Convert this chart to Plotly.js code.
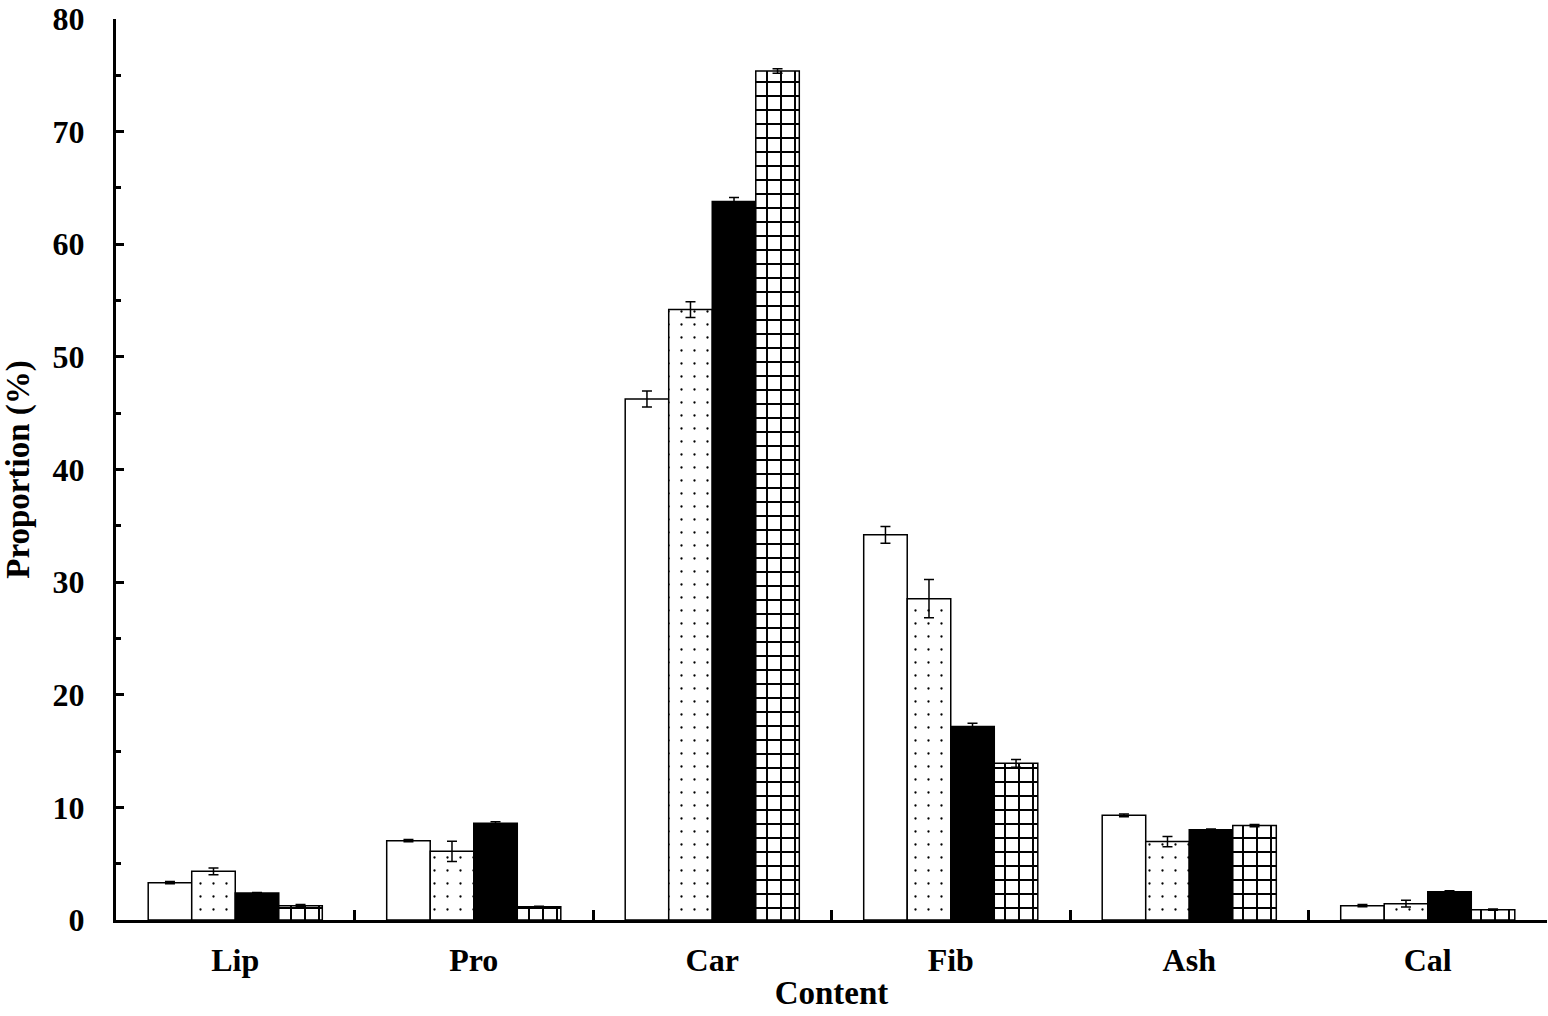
<!DOCTYPE html>
<html>
<head>
<meta charset="utf-8">
<script src="https://cdn.plot.ly/plotly-3.0.1.min.js"></script>
<style>html,body{margin:0;padding:0;background:#fff;}#chart{width:1548px;height:1016px;}</style>
</head>
<body>
<div id="chart"></div>
<script>
const categories = ["Lip", "Pro", "Car", "Fib", "Ash", "Cal"];
const series1 = [3.31, 7.04, 46.26, 34.2, 9.29, 1.27];
const series1Err = [0.1, 0.1, 0.7, 0.74, 0.12, 0.1];
const series2 = [4.32, 6.1, 54.2, 28.53, 6.96, 1.45];
const series2Err = [0.3, 0.9, 0.7, 1.7, 0.45, 0.3];
const series3 = [2.4, 8.58, 63.8, 17.17, 8.02, 2.51];
const series3Err = [0.05, 0.15, 0.35, 0.3, 0.05, 0.08];
const series4 = [1.27, 1.18, 75.38, 13.91, 8.38, 0.92];
const series4Err = [0.1, 0.05, 0.2, 0.35, 0.1, 0.05];
const yTickVals = [0, 10, 20, 30, 40, 50, 60, 70, 80];

const FONT = "Liberation Serif, Times New Roman, serif";

function errBar(arr) {
  return {type: "data", array: arr, visible: true, color: "#000", thickness: 1.5, width: 5};
}

const traces = [
  {type: "bar", x: categories, y: series1, error_y: errBar(series1Err),
   marker: {color: "#fff", line: {color: "#000", width: 1.5}}},
  {type: "bar", x: categories, y: series2, error_y: errBar(series2Err),
   marker: {color: "#fff", line: {color: "#000", width: 1.5},
            pattern: {shape: ".", size: 13, solidity: 0.025, fgcolor: "#000", bgcolor: "#fff", fillmode: "replace"}}},
  {type: "bar", x: categories, y: series3, error_y: errBar(series3Err),
   marker: {color: "#000", line: {color: "#000", width: 1.5}}},
  {type: "bar", x: categories, y: series4, error_y: errBar(series4Err),
   marker: {color: "#fff", line: {color: "#000", width: 1.5},
            pattern: {shape: "+", size: 14, solidity: 0.26, fgcolor: "#000", bgcolor: "#fff", fillmode: "replace"}}}
];

const layout = {
  width: 1548, height: 1016,
  margin: {l: 116, r: 1, t: 19, b: 96, pad: 0},
  paper_bgcolor: "#fff", plot_bgcolor: "#fff",
  showlegend: false,
  barmode: "group", bargap: 0.27, bargroupgap: 0,
  font: {family: FONT, color: "#000", size: 32, weight: "bold"},
  xaxis: {
    type: "category",
    showline: true, linecolor: "#000", linewidth: 3,
    ticks: "inside", tickson: "boundaries", ticklen: 10, tickwidth: 3, tickcolor: "#000",
    showgrid: false, zeroline: false,
    tickfont: {family: FONT, size: 32, color: "#000", weight: "bold"},
    ticklabelstandoff: 10,
    title: {text: "Content", font: {family: FONT, size: 33, color: "#000", weight: "bold"}, standoff: 4}
  },
  yaxis: {
    range: [0, 80],
    showline: true, linecolor: "#000", linewidth: 3,
    ticks: "inside", ticklen: 8, tickwidth: 3, tickcolor: "#000",
    tickmode: "array", tickvals: yTickVals,
    minor: {ticks: "inside", dtick: 5, ticklen: 5, tickwidth: 3, tickcolor: "#000", showgrid: false},
    showgrid: false, zeroline: false,
    tickfont: {family: FONT, size: 32, color: "#000", weight: "bold"},
    ticklabelstandoff: 22,
    title: {text: "Proportion (%)", font: {family: FONT, size: 33, color: "#000", weight: "bold"}, standoff: 16}
  }
};

Plotly.newPlot("chart", traces, layout, {displayModeBar: false, staticPlot: true});
</script>
</body>
</html>
